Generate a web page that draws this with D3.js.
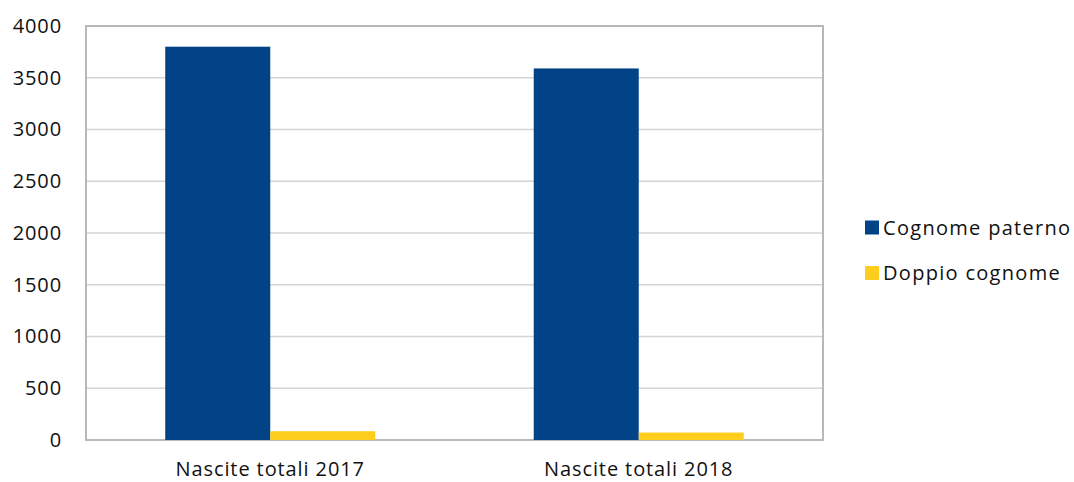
<!DOCTYPE html>
<html><head><meta charset="utf-8">
<script src="https://cdn.jsdelivr.net/npm/d3@7"></script>
<style>body{margin:0;background:#fff}svg{display:block}text{font-family:"Open Sans","Liberation Sans",sans-serif;fill:#111}</style>
</head><body><svg id="c" width="1074" height="482"></svg>
<script>
const categories = ["Nascite totali 2017", "Nascite totali 2018"];
const seriesNames = ["Cognome paterno", "Doppio cognome"];
const cognomePaterno = [3800, 3590];
const doppioCognome = [85, 72];
const yTicks = [0, 500, 1000, 1500, 2000, 2500, 3000, 3500, 4000];
const colors = ["#014386", "#fece1e"];

const svg = d3.select("#c");
const m = {l: 86, r: 251, t: 26, b: 42};
const W = 1074, H = 482;
const x0 = d3.scaleBand().domain(categories).range([m.l, W - m.r]).paddingInner(0.43).paddingOuter(0.215);
const x1 = d3.scaleBand().domain(seriesNames).range([0, x0.bandwidth()]);
const y = d3.scaleLinear().domain([0, 4000]).range([H - m.b, m.t]);
const values = [cognomePaterno, doppioCognome];
const FONT = '"Open Sans","Liberation Sans",sans-serif';

// gridlines
svg.append("g").selectAll("line").data(yTicks).join("line")
  .attr("x1", m.l).attr("x2", W - m.r)
  .attr("y1", d => y(d)).attr("y2", d => y(d))
  .attr("stroke", "#d4d4d4").attr("stroke-width", 1.3);

// plot border
svg.append("rect").attr("x", m.l).attr("y", m.t).attr("width", W - m.r - m.l).attr("height", H - m.b - m.t)
  .attr("fill", "none").attr("stroke", "#b8b8b8").attr("stroke-width", 2);

// bars
seriesNames.forEach((s, i) => {
  svg.append("g").selectAll("rect").data(categories).join("rect")
    .attr("x", d => x0(d) + x1(s))
    .attr("width", x1.bandwidth())
    .attr("y", (d, j) => y(values[i][j]))
    .attr("height", (d, j) => y(0) - y(values[i][j]))
    .attr("fill", colors[i]);
});

// y axis
const ya = svg.append("g").attr("transform", `translate(${m.l},0)`)
  .call(d3.axisLeft(y).tickValues(yTicks).tickFormat(d3.format("d")).tickSize(0).tickPadding(24));
ya.select(".domain").remove();
ya.selectAll("text").style("font-size", "20px").style("letter-spacing", "0.9px").style("font-family", FONT).attr("fill", "#111");

// x axis
const xa = svg.append("g").attr("transform", `translate(0,${H - m.b})`)
  .call(d3.axisBottom(x0).tickSize(0).tickPadding(22));
xa.select(".domain").remove();
xa.selectAll("text").style("font-size", "20px").style("letter-spacing", "0.9px").style("font-family", FONT).attr("fill", "#111");

// legend
const lg = svg.append("g");
seriesNames.forEach((s, i) => {
  const yy = 227.5 + i * 45.5;
  lg.append("rect").attr("x", 865).attr("y", yy - 7).attr("width", 14).attr("height", 14).attr("fill", colors[i]);
  lg.append("text").attr("x", 883).attr("y", yy).attr("dy", "0.35em")
    .style("font-size", "20px").style("letter-spacing", "1.3px").text(s);
});
</script></body></html>
